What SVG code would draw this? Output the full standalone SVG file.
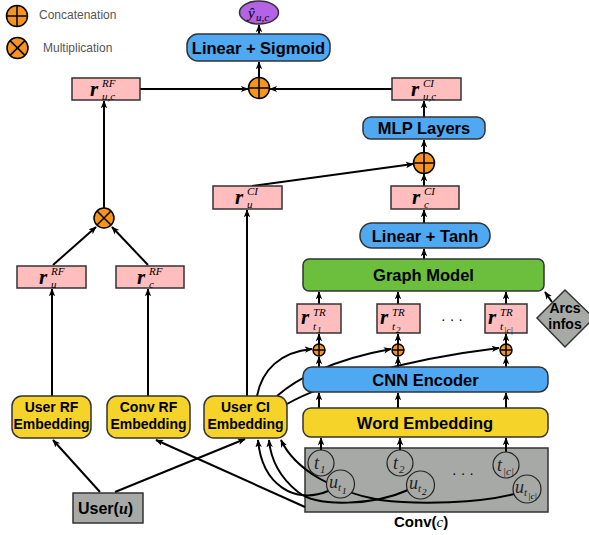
<svg xmlns="http://www.w3.org/2000/svg" width="589" height="535" viewBox="0 0 589 535">
<style>
.conn{fill:none;stroke:#000;stroke-width:2;marker-end:url(#ah)}
.pink{fill:#ffbdbd;stroke:#333;stroke-width:1.5}
.blue{fill:#4ea8f2;stroke:#333;stroke-width:1.5}
.yellow{fill:#f5d328;stroke:#333;stroke-width:1.5}
.green{fill:#6bbf3d;stroke:#333;stroke-width:1.5}
.gray{fill:#a7a9a7;stroke:#333;stroke-width:1.5}
.op{fill:#f7941d;stroke:#000;stroke-width:1.5}
.opl{stroke:#000;stroke-width:1.5;fill:none}
.tok{fill:#a7a9a7;stroke:#222;stroke-width:1.2}
.lbl{font-family:"Liberation Sans",Arial,sans-serif;font-weight:bold;fill:#000}
.big{font-size:16.5px}
.emb{font-size:14px}
.leg{font-family:"Liberation Sans",Arial,sans-serif;font-size:12px;fill:#555}
.m{font-family:"Liberation Serif","Times New Roman",serif;font-style:italic;fill:#000}
.r{font-size:21px;font-weight:bold}
.sup{font-size:11px}
.sub{font-size:11px}
.tr{font-size:11px}
.ss{font-size:9px}
.tk{font-size:18px;fill:#222}
.tks{font-size:11px;fill:#222}
.dots{font-family:"Liberation Sans",Arial,sans-serif;font-size:14px;fill:#000}
</style>
<defs>
<marker id="ah" viewBox="0 0 10 10" refX="9" refY="5" markerWidth="8" markerHeight="8" markerUnits="userSpaceOnUse" orient="auto"><path d="M0,1 L10,5 L0,9 L2.5,5 z" fill="#000"/></marker>
</defs>

<g id="legend">
<circle class="op" cx="17" cy="16" r="10.5"/>
<path class="opl" d="M6.5,16 H27.5 M17,5.5 V26.5"/>
<text class="leg" x="39" y="19">Concatenation</text>
<circle class="op" cx="17.5" cy="48" r="10.5"/>
<path class="opl" d="M10.1,40.6 L24.9,55.4 M24.9,40.6 L10.1,55.4"/>
<text class="leg" x="43" y="52">Multiplication</text>
</g>

<g id="conv">
<rect class="gray" x="305" y="448" width="243" height="64"/>
<text class="dots" x="463" y="478" text-anchor="middle">· · ·</text>
<text class="lbl" x="394" y="527" font-size="15px">Conv(<tspan class="m" font-weight="normal">c</tspan>)</text>
</g>

<g id="connectors">
<path class="conn" d="M259,78 V62"/>
<path class="conn" d="M259,34 V25"/>
<path class="conn" d="M140,89 H248"/>
<path class="conn" d="M392,89 H270"/>
<path class="conn" d="M424,117 V101"/>
<path class="conn" d="M424,153 V140"/>
<path class="conn" d="M424,186 V174"/>
<path class="conn" d="M252,186 L413,164"/>
<path class="conn" d="M424,223 V210"/>
<path class="conn" d="M424,259 V249"/>
<path class="conn" d="M104,208 V101"/>
<path class="conn" d="M53,265 L96,227"/>
<path class="conn" d="M148,265 L112,227"/>
<path class="conn" d="M52,396 V289"/>
<path class="conn" d="M148,396 V289"/>
<path class="conn" d="M247,396 V210"/>
<path class="conn" d="M319,304 V292"/>
<path class="conn" d="M398,304 V292"/>
<path class="conn" d="M506,304 V292"/>
<path class="conn" d="M319,344 V334"/>
<path class="conn" d="M398,344 V334"/>
<path class="conn" d="M506,344 V334"/>
<path class="conn" d="M319,367 V357"/>
<path class="conn" d="M398,367 V357"/>
<path class="conn" d="M506,367 V357"/>
<path class="conn" d="M319,408 V393"/>
<path class="conn" d="M398,408 V393"/>
<path class="conn" d="M506,408 V393"/>
<path class="conn" d="M321,450 V438"/>
<path class="conn" d="M400,450 V438"/>
<path class="conn" d="M506,452 V438"/>
<path class="conn" d="M552,302 L545,292"/>
<path class="conn" d="M257,396 C262,370 280,352 312,349"/>
<path class="conn" d="M277,396 C295,380 330,360 391,349"/>
<path class="conn" d="M287,404 C320,385 400,360 499,348"/>
<path class="conn" d="M100,492 L53,440"/>
<path class="conn" d="M115,492 L245,439"/>
<path class="conn" d="M305,507 L156,440"/>
<path class="conn" d="M328,491 C295,505 262,485 258,440"/>
<path class="conn" d="M408,490 C375,505 318,508 298,492 C283,480 271,462 269,440"/>
<path class="conn" d="M514,494 C480,503 420,505 380,500 C335,492 295,470 281,440"/>
</g>

<g id="yhat">
<ellipse cx="259" cy="12.5" rx="19.5" ry="11.5" fill="#b463e6" stroke="#333" stroke-width="1.5"/>
<text class="m" x="248" y="18" font-size="15px">ŷ<tspan x="256" y="21" font-size="11px">u,c</tspan></text>
</g>
<g id="linear-sigmoid">
<rect class="blue" x="187" y="34" width="143" height="27" rx="11"/>
<text class="lbl big" x="258.5" y="53.5" text-anchor="middle">Linear + Sigmoid</text>
</g>
<g id="concat-top">
<circle class="op" cx="259" cy="88" r="10.5"/>
<path class="opl" d="M248.5,88 H269.5 M259,77.5 V98.5"/>
</g>
<g id="r-uc-rf">
<rect class="pink" x="72" y="78" width="68" height="22"/>
<text class="m"><tspan class="r" x="90" y="96">r</tspan><tspan class="sup" x="102" y="87">RF</tspan><tspan class="sub" x="102" y="100">u,c</tspan></text>
</g>
<g id="r-uc-ci">
<rect class="pink" x="392" y="78" width="69" height="22"/>
<text class="m"><tspan class="r" x="411" y="96">r</tspan><tspan class="sup" x="423" y="87">CI</tspan><tspan class="sub" x="423" y="100">u,c</tspan></text>
</g>
<g id="mlp">
<rect class="blue" x="363" y="117" width="122" height="22" rx="8"/>
<text class="lbl big" x="424" y="134" text-anchor="middle">MLP Layers</text>
</g>
<g id="concat-mlp">
<circle class="op" cx="424" cy="163" r="10.5"/>
<path class="opl" d="M413.5,163 H434.5 M424,152.5 V173.5"/>
</g>
<g id="r-u-ci">
<rect class="pink" x="213" y="186" width="69" height="23"/>
<text class="m"><tspan class="r" x="235" y="204">r</tspan><tspan class="sup" x="247" y="195">CI</tspan><tspan class="sub" x="247" y="208">u</tspan></text>
</g>
<g id="r-c-ci">
<rect class="pink" x="391" y="186" width="68" height="23"/>
<text class="m"><tspan class="r" x="412" y="204">r</tspan><tspan class="sup" x="424" y="195">CI</tspan><tspan class="sub" x="424" y="208">c</tspan></text>
</g>
<g id="linear-tanh">
<rect class="blue" x="360" y="223" width="130" height="25" rx="12"/>
<text class="lbl big" x="425" y="241.5" text-anchor="middle">Linear + Tanh</text>
</g>
<g id="mult">
<circle class="op" cx="104" cy="218" r="10"/>
<path class="opl" d="M97,211 L111,225 M111,211 L97,225"/>
</g>
<g id="r-u-rf">
<rect class="pink" x="17" y="266" width="69" height="22"/>
<text class="m"><tspan class="r" x="39" y="284">r</tspan><tspan class="sup" x="51" y="275">RF</tspan><tspan class="sub" x="51" y="288">u</tspan></text>
</g>
<g id="r-c-rf">
<rect class="pink" x="116" y="266" width="68" height="22"/>
<text class="m"><tspan class="r" x="137" y="284">r</tspan><tspan class="sup" x="149" y="275">RF</tspan><tspan class="sub" x="149" y="288">c</tspan></text>
</g>
<g id="graph-model">
<rect class="green" x="303" y="259" width="241" height="32" rx="6"/>
<text class="lbl big" x="423.5" y="281" text-anchor="middle">Graph Model</text>
</g>
<g id="arcs-infos">
<polygon points="565,290 537,318 565,347 594,318" fill="#a7a9a7" stroke="#333" stroke-width="1.5"/>
<text class="lbl" x="565" y="313" font-size="14px" text-anchor="middle">Arcs</text>
<text class="lbl" x="565" y="329" font-size="14px" text-anchor="middle">infos</text>
</g>
<g id="r-t1">
<rect class="pink" x="297" y="304" width="44" height="29"/>
<text class="m"><tspan class="r" x="301" y="324">r</tspan><tspan class="tr" x="313" y="316">TR</tspan><tspan class="sub" x="313" y="330">t</tspan><tspan class="ss" x="317" y="333">1</tspan></text>
</g>
<g id="r-t2">
<rect class="pink" x="377" y="304" width="43" height="29"/>
<text class="m"><tspan class="r" x="380" y="324">r</tspan><tspan class="tr" x="392" y="316">TR</tspan><tspan class="sub" x="392" y="330">t</tspan><tspan class="ss" x="396" y="333">2</tspan></text>
</g>
<text class="dots" x="452" y="324" text-anchor="middle">· · ·</text>
<g id="r-tc">
<rect class="pink" x="485" y="304" width="42" height="29"/>
<text class="m"><tspan class="r" x="488" y="324">r</tspan><tspan class="tr" x="500" y="316">TR</tspan><tspan class="sub" x="500" y="330">t</tspan><tspan class="ss" x="504" y="333">|c|</tspan></text>
</g>
<g id="concat-t1">
<circle class="op" cx="319" cy="350" r="6"/>
<path class="opl" d="M313,350 H325 M319,344 V356" stroke-width="1.2"/>
</g>
<g id="concat-t2">
<circle class="op" cx="398" cy="350" r="6"/>
<path class="opl" d="M392,350 H404 M398,344 V356" stroke-width="1.2"/>
</g>
<g id="concat-tc">
<circle class="op" cx="506" cy="350" r="6"/>
<path class="opl" d="M500,350 H512 M506,344 V356" stroke-width="1.2"/>
</g>
<g id="cnn-encoder">
<rect class="blue" x="303" y="367" width="245" height="25" rx="9"/>
<text class="lbl big" x="425.5" y="385.5" text-anchor="middle">CNN Encoder</text>
</g>
<g id="word-embedding">
<rect class="yellow" x="303" y="408" width="245" height="29" rx="8"/>
<text class="lbl big" x="425" y="428.5" text-anchor="middle">Word Embedding</text>
</g>
<g id="user-rf-embedding">
<rect class="yellow" x="12" y="396" width="79" height="42" rx="10"/>
<text class="lbl emb" x="51.5" y="412" text-anchor="middle">User RF</text>
<text class="lbl emb" x="51.5" y="429" text-anchor="middle">Embedding</text>
</g>
<g id="conv-rf-embedding">
<rect class="yellow" x="107" y="396" width="83" height="42" rx="10"/>
<text class="lbl emb" x="148.5" y="412" text-anchor="middle">Conv RF</text>
<text class="lbl emb" x="148.5" y="429" text-anchor="middle">Embedding</text>
</g>
<g id="user-ci-embedding">
<rect class="yellow" x="204" y="396" width="83" height="42" rx="10"/>
<text class="lbl emb" x="245.5" y="412" text-anchor="middle">User CI</text>
<text class="lbl emb" x="245.5" y="429" text-anchor="middle">Embedding</text>
</g>
<g id="user">
<rect class="gray" x="73" y="493" width="70" height="30"/>
<text class="lbl" x="78" y="514" font-size="16px">User(<tspan class="m">u</tspan>)</text>
</g>
<g id="t1">
<circle class="tok" cx="321" cy="463" r="13"/>
<text class="m"><tspan class="tk" x="314" y="469">t</tspan><tspan class="tks" x="320" y="473">1</tspan></text>
</g>
<g id="u-t1">
<circle class="tok" cx="340.5" cy="484" r="14"/>
<text class="m"><tspan class="tk" x="329" y="488">u</tspan><tspan class="tks" x="338" y="491">t</tspan><tspan class="ss" x="342" y="494">1</tspan></text>
</g>
<g id="t2">
<circle class="tok" cx="400" cy="463" r="13"/>
<text class="m"><tspan class="tk" x="393" y="469">t</tspan><tspan class="tks" x="399" y="473">2</tspan></text>
</g>
<g id="u-t2">
<circle class="tok" cx="420.5" cy="485" r="14"/>
<text class="m"><tspan class="tk" x="409" y="489">u</tspan><tspan class="tks" x="418" y="492">t</tspan><tspan class="ss" x="422" y="495">2</tspan></text>
</g>
<g id="tc">
<circle class="tok" cx="506" cy="465" r="13"/>
<text class="m"><tspan class="tk" x="497" y="471">t</tspan><tspan class="tks" x="503" y="475">|c|</tspan></text>
</g>
<g id="u-tc">
<circle class="tok" cx="527" cy="489" r="14"/>
<text class="m"><tspan class="tk" x="515" y="493">u</tspan><tspan class="tks" x="524" y="496">t</tspan><tspan class="ss" x="528" y="499">|c|</tspan></text>
</g>
</svg>
